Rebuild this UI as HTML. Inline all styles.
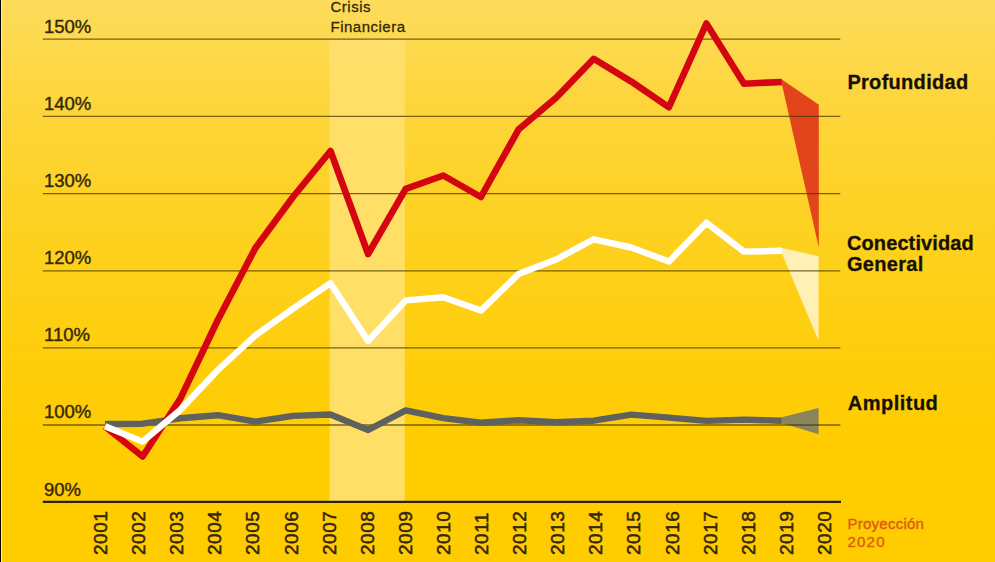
<!DOCTYPE html>
<html><head><meta charset="utf-8"><title>Chart</title>
<style>
html,body{margin:0;padding:0;background:#ffcc00;}
body{width:995px;height:562px;overflow:hidden;font-family:"Liberation Sans",sans-serif;}
svg{display:block;}
text{font-family:"Liberation Sans",sans-serif;}
</style></head><body>
<svg width="995" height="562" viewBox="0 0 995 562">
<defs>
<linearGradient id="bg" x1="0" y1="0" x2="0" y2="1">
<stop offset="0" stop-color="#fddc5c"/>
<stop offset="0.187" stop-color="#fdd53b"/>
<stop offset="0.347" stop-color="#fdd226"/>
<stop offset="0.543" stop-color="#fecf14"/>
<stop offset="0.79" stop-color="#ffcc00"/>
<stop offset="1" stop-color="#ffcc00"/>
</linearGradient>
</defs>
<rect x="0" y="0" width="995" height="562" fill="url(#bg)"/>
<rect x="0" y="0" width="1" height="562" fill="#000"/>
<rect x="1" y="0" width="1" height="562" fill="#fff6a8"/>

<rect x="329.5" y="39.5" width="75.3" height="462" fill="#ffdf6a" fill-opacity="0.95"/>
<polygon points="780.8,78.7 818.8,104.8 818.8,247.5 782.2,85.4 780.8,85.4" fill="#e2451c"/>
<polygon points="780.8,247.7 818.6,256.2 818.6,341 782.2,254 780.8,254" fill="#fff" fill-opacity="0.68"/>
<polygon points="780.8,417.4 818.6,408 818.6,434.2 786.5,424.6 780.8,423.6" fill="#8a845c"/>
<line x1="42.8" x2="840.3" y1="39.1" y2="39.1" stroke="#4a3600" stroke-opacity="0.74" stroke-width="1.35"/>
<line x1="42.8" x2="840.3" y1="116.4" y2="116.4" stroke="#4a3600" stroke-opacity="0.74" stroke-width="1.35"/>
<line x1="42.8" x2="840.3" y1="193.6" y2="193.6" stroke="#4a3600" stroke-opacity="0.74" stroke-width="1.35"/>
<line x1="42.8" x2="840.3" y1="270.8" y2="270.8" stroke="#4a3600" stroke-opacity="0.74" stroke-width="1.35"/>
<line x1="42.8" x2="840.3" y1="347.8" y2="347.8" stroke="#4a3600" stroke-opacity="0.74" stroke-width="1.35"/>
<line x1="42.8" x2="840.3" y1="425.0" y2="425.0" stroke="#4a3600" stroke-opacity="0.74" stroke-width="1.35"/>
<line x1="42.8" x2="841" y1="501.9" y2="501.9" stroke="#2e2000" stroke-width="2.2"/>
<text x="44" y="32.5" font-size="18.5" fill="#33280a" stroke="#33280a" stroke-width="0.4">150%</text>
<text x="44" y="109.8" font-size="18.5" fill="#33280a" stroke="#33280a" stroke-width="0.4">140%</text>
<text x="44" y="187.0" font-size="18.5" fill="#33280a" stroke="#33280a" stroke-width="0.4">130%</text>
<text x="44" y="264.2" font-size="18.5" fill="#33280a" stroke="#33280a" stroke-width="0.4">120%</text>
<text x="44" y="341.2" font-size="18.5" fill="#33280a" stroke="#33280a" stroke-width="0.4">110%</text>
<text x="44" y="418.4" font-size="18.5" fill="#33280a" stroke="#33280a" stroke-width="0.4">100%</text>
<text x="44" y="495.6" font-size="18.5" fill="#33280a" stroke="#33280a" stroke-width="0.4">90%</text>
<text x="330.5" y="11.7" font-size="15" fill="#33280a" stroke="#33280a" stroke-width="0.3" letter-spacing="0.5">Crisis</text>
<text x="330.5" y="32.4" font-size="15" fill="#33280a" stroke="#33280a" stroke-width="0.3" letter-spacing="0.5">Financiera</text>
<polyline points="105.0,424.0 142.6,423.7 180.2,418.3 217.8,415.2 255.4,421.6 293.0,415.9 330.5,414.5 368.1,430.0 405.7,410.4 443.3,418.1 480.9,422.7 518.5,420.2 556.1,422.2 593.7,420.7 631.3,414.6 668.9,417.6 706.4,420.9 744.0,419.6 781.6,420.7" fill="none" stroke="#5f615e" stroke-width="6.4" stroke-linejoin="round"/>
<polyline points="105.0,426.5 142.6,456.5 180.2,398.8 217.8,320.0 255.4,248.0 293.0,197.0 330.5,151.0 368.1,254.0 405.7,188.8 443.3,175.5 480.9,197.0 518.5,129.6 556.1,97.8 593.7,58.8 631.3,81.6 668.9,107.2 706.4,23.5 744.0,83.7 781.6,82.0" fill="none" stroke="#d40511" stroke-width="6.6" stroke-linejoin="round"/>
<polyline points="105.0,426.3 142.6,441.6 180.2,410.0 217.8,370.0 255.4,335.5 293.0,308.6 330.5,283.2 368.1,341.0 405.7,300.4 443.3,297.2 480.9,310.6 518.5,274.1 556.1,259.5 593.7,239.3 631.3,247.5 668.9,261.6 706.4,222.7 744.0,251.6 781.6,250.8" fill="none" stroke="#ffffff" stroke-width="6.4" stroke-linejoin="round"/>
<text transform="translate(107.0,555) rotate(-90)" font-size="19" letter-spacing="0.5" fill="#33260a" stroke="#33260a" stroke-width="0.5">2001</text>
<text transform="translate(145.1,555) rotate(-90)" font-size="19" letter-spacing="0.5" fill="#33260a" stroke="#33260a" stroke-width="0.5">2002</text>
<text transform="translate(183.2,555) rotate(-90)" font-size="19" letter-spacing="0.5" fill="#33260a" stroke="#33260a" stroke-width="0.5">2003</text>
<text transform="translate(221.3,555) rotate(-90)" font-size="19" letter-spacing="0.5" fill="#33260a" stroke="#33260a" stroke-width="0.5">2004</text>
<text transform="translate(259.4,555) rotate(-90)" font-size="19" letter-spacing="0.5" fill="#33260a" stroke="#33260a" stroke-width="0.5">2005</text>
<text transform="translate(297.5,555) rotate(-90)" font-size="19" letter-spacing="0.5" fill="#33260a" stroke="#33260a" stroke-width="0.5">2006</text>
<text transform="translate(335.6,555) rotate(-90)" font-size="19" letter-spacing="0.5" fill="#33260a" stroke="#33260a" stroke-width="0.5">2007</text>
<text transform="translate(373.7,555) rotate(-90)" font-size="19" letter-spacing="0.5" fill="#33260a" stroke="#33260a" stroke-width="0.5">2008</text>
<text transform="translate(411.8,555) rotate(-90)" font-size="19" letter-spacing="0.5" fill="#33260a" stroke="#33260a" stroke-width="0.5">2009</text>
<text transform="translate(449.9,555) rotate(-90)" font-size="19" letter-spacing="0.5" fill="#33260a" stroke="#33260a" stroke-width="0.5">2010</text>
<text transform="translate(488.0,555) rotate(-90)" font-size="19" letter-spacing="0.5" fill="#33260a" stroke="#33260a" stroke-width="0.5">2011</text>
<text transform="translate(526.1,555) rotate(-90)" font-size="19" letter-spacing="0.5" fill="#33260a" stroke="#33260a" stroke-width="0.5">2012</text>
<text transform="translate(564.2,555) rotate(-90)" font-size="19" letter-spacing="0.5" fill="#33260a" stroke="#33260a" stroke-width="0.5">2013</text>
<text transform="translate(602.3,555) rotate(-90)" font-size="19" letter-spacing="0.5" fill="#33260a" stroke="#33260a" stroke-width="0.5">2014</text>
<text transform="translate(640.4,555) rotate(-90)" font-size="19" letter-spacing="0.5" fill="#33260a" stroke="#33260a" stroke-width="0.5">2015</text>
<text transform="translate(678.5,555) rotate(-90)" font-size="19" letter-spacing="0.5" fill="#33260a" stroke="#33260a" stroke-width="0.5">2016</text>
<text transform="translate(716.6,555) rotate(-90)" font-size="19" letter-spacing="0.5" fill="#33260a" stroke="#33260a" stroke-width="0.5">2017</text>
<text transform="translate(754.7,555) rotate(-90)" font-size="19" letter-spacing="0.5" fill="#33260a" stroke="#33260a" stroke-width="0.5">2018</text>
<text transform="translate(792.8,555) rotate(-90)" font-size="19" letter-spacing="0.5" fill="#33260a" stroke="#33260a" stroke-width="0.5">2019</text>
<text transform="translate(830.9,555) rotate(-90)" font-size="19" letter-spacing="0.5" fill="#33260a" stroke="#33260a" stroke-width="0.5">2020</text>
<text x="847.4" y="88.8" font-size="20" font-weight="bold" fill="#161000" stroke="#161000" stroke-width="0.3" letter-spacing="0.3">Profundidad</text>
<text x="847" y="249.9" font-size="20" font-weight="bold" fill="#161000" stroke="#161000" stroke-width="0.3" letter-spacing="0.1">Conectividad</text>
<text x="847" y="271.1" font-size="20" font-weight="bold" fill="#161000" stroke="#161000" stroke-width="0.3" letter-spacing="0.3">General</text>
<text x="847.7" y="410" font-size="20" font-weight="bold" fill="#161000" stroke="#161000" stroke-width="0.3" letter-spacing="0.5">Amplitud</text>
<text x="847.5" y="529" font-size="15" fill="#dc5a0e" stroke="#dc5a0e" stroke-width="0.35" letter-spacing="0.25">Proyección</text>
<text x="847.5" y="547.3" font-size="15" fill="#dc5a0e" stroke="#dc5a0e" stroke-width="0.35" letter-spacing="1.2">2020</text>
</svg></body></html>
